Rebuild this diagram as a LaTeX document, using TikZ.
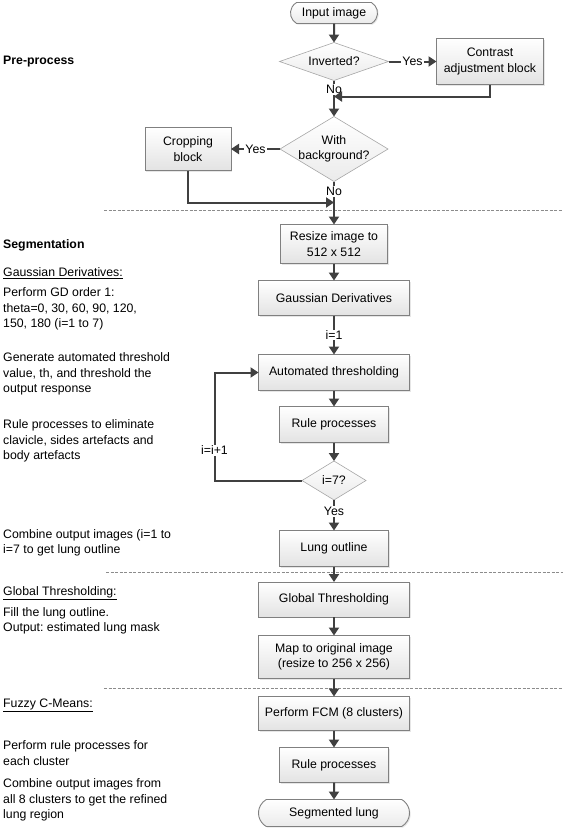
\documentclass[tikz,border=0pt]{standalone}
\usepackage{fontspec}
\setmainfont{Liberation Sans}
\frenchspacing
\usetikzlibrary{positioning,shapes.geometric,shapes.misc,arrows.meta,shadows}
\definecolor{arrowgray}{HTML}{404040}
\definecolor{boxgray}{HTML}{808080}
\definecolor{dmdgray}{HTML}{A6A6A6}
\definecolor{divgray}{HTML}{8C8C8C}
\tikzset{
    procbox/.style = {rectangle, draw=boxgray, line width=0.9pt, top color=white, bottom color=black!11, inner sep=2pt, outer sep=0pt, align=center, drop shadow={shadow xshift=1.2pt, shadow yshift=-1.2pt, opacity=0.2}},
    terminal/.style = {rounded rectangle, rounded rectangle arc length=120, draw=boxgray, line width=0.9pt, top color=white, bottom color=black!8, inner sep=2pt, outer sep=0pt, drop shadow={shadow xshift=1.2pt, shadow yshift=-1.2pt, opacity=0.2}},
    decision/.style = {diamond, draw=dmdgray, line width=0.6pt, top color=white, bottom color=black!8, inner sep=0pt, outer sep=0pt},
    flow/.style = {->, draw=arrowgray, line width=2pt},
    lbl/.style = {fill=white, inner sep=1pt},
    sidenote/.style = {anchor=west, align=left, inner sep=0pt},
    divider/.style = {draw=divgray, line width=0.6pt, dash pattern=on 3pt off 1.5pt}
}

\begin{document}
\begin{tikzpicture}[x=1pt, y=1pt, font=\fontsize{12.3}{15.5}\selectfont, >={Triangle[length=8pt,width=10pt]}]
\useasboundingbox (0,0) rectangle (563,-831);

% main column
\node[terminal, minimum width=91pt, minimum height=21pt] (inp) at (334,-13) {Input image};
\node[decision, minimum width=109pt, minimum height=38pt, label={center:{Inverted?}}, below=19pt of inp] (inv) {};
\node[procbox, minimum width=107pt, minimum height=46pt, right=48pt of inv] (contrast) {Contrast\\adjustment block};
\node[decision, minimum width=108pt, minimum height=65pt, label={[align=center]center:{With\\background?}}, below=36pt of inv] (bg) {};
\node[procbox, minimum width=86pt, minimum height=43pt, left=49pt of bg] (crop) {Cropping\\block};
\coordinate[below=16pt of inv] (join1);
\coordinate[below=21pt of bg] (join2);

\node[procbox, minimum width=107pt, minimum height=39pt, below=43pt of bg] (resize) {Resize image to\\512 x 512};
\node[procbox, minimum width=151pt, minimum height=35pt, below=17pt of resize] (gd) {Gaussian Derivatives};
\node[procbox, minimum width=151pt, minimum height=36pt, below=39pt of gd] (auto) {Automated thresholding};
\node[procbox, minimum width=109pt, minimum height=36pt, below=16pt of auto] (rule1) {Rule processes};
\node[decision, minimum width=64pt, minimum height=39pt, label={center:{i=7?}}, below=18.5pt of rule1] (iseven) {};
\coordinate[left=44pt of auto.west] (loopup);
\node[procbox, minimum width=109pt, minimum height=36pt, below=30.5pt of iseven] (lung) {Lung outline};
\node[procbox, minimum width=151pt, minimum height=35pt, below=15.5pt of lung] (gt) {Global Thresholding};
\node[procbox, minimum width=151pt, minimum height=43pt, below=18.5pt of gt] (map) {Map to original image\\(resize to 256 x 256)};
\node[procbox, minimum width=151pt, minimum height=34pt, below=18pt of map] (fcm) {Perform FCM (8 clusters)};
\node[procbox, minimum width=109pt, minimum height=35pt, below=17pt of fcm] (rule2) {Rule processes};
\node[terminal, minimum width=155pt, minimum height=27pt, below=17pt of rule2] (seg) {Segmented lung};

% section dividers
\draw[divider] (104,-210) -- (563,-210);
\draw[divider] (106,-572) -- (563,-572);
\draw[divider] (104,-688) -- (563,-688);

% connectors
\draw[flow] (inp) -- (inv);
\draw[flow] (inv) -- node[lbl]{Yes} (contrast);
\draw[flow] (inv) -- node[lbl, pos=0.25]{No} (bg);
\draw[flow] (contrast.south) |- (join1);
\draw[flow] (bg) -- node[lbl]{Yes} (crop);
\draw[flow] (bg) -- node[lbl, pos=0.23]{No} (resize);
\draw[flow] (crop.south) |- (join2);
\draw[flow] (resize) -- (gd);
\draw[flow] (gd) -- node[lbl]{i=1} (auto);
\draw[flow] (auto) -- (rule1);
\draw[flow] (rule1) -- (iseven);
\draw[flow] (iseven.west) -| node[lbl, pos=0.64]{i=i+1} (loopup) -- (auto.west);
\draw[flow] (iseven) -- node[lbl, pos=0.38]{Yes} (lung);
\draw[flow] (lung) -- (gt);
\draw[flow] (gt) -- (map);
\draw[flow] (map) -- (fcm);
\draw[flow] (fcm) -- (rule2);
\draw[flow] (rule2) -- (seg);

% side notes
\node[sidenote] (preproc) at (3,-62) {\textbf{Pre-process}};
\node[sidenote] (segm) at (3,-245) {\textbf{Segmentation}};
\node[sidenote] (gdhead) at (3,-273) {\underline{Gaussian Derivatives:}};
\node[sidenote] (gdnote) at (3,-309) {Perform GD order 1:\\theta=0, 30, 60, 90, 120,\\150, 180 (i=1 to 7)};
\node[sidenote] (thnote) at (3,-374) {Generate automated threshold\\value, th, and threshold the\\output response};
\node[sidenote] (rulenote) at (3,-441) {Rule processes to eliminate\\clavicle, sides artefacts and\\body artefacts};
\node[sidenote] (combnote) at (3,-543) {Combine output images (i=1 to\\i=7 to get lung outline};
\node[sidenote] (gthead) at (3,-593) {\underline{Global Thresholding:}};
\node[sidenote] (fillnote) at (3,-621) {Fill the lung outline.\\Output: estimated lung mask};
\node[sidenote] (fcmhead) at (3,-705) {\underline{Fuzzy C-Means:}};
\node[sidenote] (fcmnote) at (3,-753) {Perform rule processes for\\each cluster};
\node[sidenote] (refnote) at (3,-800) {Combine output images from\\all 8 clusters to get the refined\\lung region};
\end{tikzpicture}
\end{document}
